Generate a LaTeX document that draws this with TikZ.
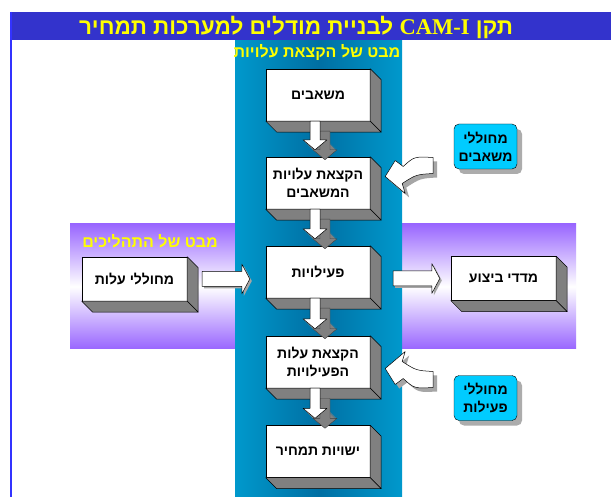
\documentclass[tikz,border=0pt]{standalone}
\usepackage{fontspec}
\setmainfont{Liberation Sans}
\newfontfamily\hebfont[Script=Hebrew]{Liberation Sans}
\newfontfamily\latserif{Liberation Serif}
\TeXXeTstate=1
\usetikzlibrary{calc,shadows}
\newcommand\heb[1]{\beginR #1\endR}
\definecolor{titleblue}{HTML}{3333CC}
\definecolor{borderblue}{HTML}{3333FF}
\definecolor{coledge}{HTML}{0099CC}
\definecolor{colmid}{HTML}{006FA3}
\definecolor{bandpurple}{HTML}{9966FF}
\definecolor{facegray}{HTML}{808080}
\definecolor{cyanbox}{HTML}{00CCFF}
\definecolor{hdryellow}{HTML}{FFFF00}
\tikzset{
  boxfont/.style={font=\hebfont\bfseries\fontsize{14}{18}\selectfont},
  frontbox/.style={draw=black, fill=white, inner sep=0pt, align=center, boxfont,
    minimum width=104pt, minimum height=52pt},
  sidebox/.style={frontbox, minimum width=105pt, minimum height=44pt},
  face/.style={fill=facegray, draw=black, line width=0.5pt, line join=round},
  rbox/.style={draw=black, fill=cyanbox, rounded corners=5pt, inner sep=0pt, align=center, boxfont,
    minimum width=63pt, minimum height=45pt,
    drop shadow={shadow xshift=5pt, shadow yshift=-5pt, fill=gray!65, opacity=1}},
  hdr/.style={text=hdryellow, font=\hebfont\bfseries\fontsize{16}{19}\selectfont, inner sep=0pt},
  arrowfront/.style={fill=white, draw=black, line width=0.5pt, line join=round},
  arrowshade/.style={fill=facegray},
  arrowshadow/.style={fill=gray!70},
}
\newcommand\extrude[1]{%
  \draw[face] (#1.north east) -- ($(#1.north east)+(11,11)$) -- ($(#1.south east)+(11,11)$) -- (#1.south east) -- cycle;
  \draw[face] (#1.south west) -- (#1.south east) -- ($(#1.south east)+(11,11)$) -- ($(#1.south west)+(11,11)$) -- cycle;}
% 3D block arrow pointing down from node #1 to node #2
\newcommand\vflowpath[3]{% #1 from, #2 to, #3 offset
  ($(#1.south)+(#3-8,#3)$) -- ($(#1.south)+(#3+2,#3)$) -- ($(#2.north)+(#3+2,#3-17)$) -- ($(#2.north)+(#3+9,#3-17)$) -- ($(#2.north)+(#3-3,#3-7)$) -- ($(#2.north)+(#3-15,#3-17)$) -- ($(#2.north)+(#3-8,#3-17)$) -- cycle}
\newcommand\vflow[2]{%
  \foreach \k in {1,...,10}{\fill[arrowshade] \vflowpath{#1}{#2}{\k};}
  \draw[facegray!50!black, line width=0.4pt, line join=round] \vflowpath{#1}{#2}{10};
  \draw[arrowfront] \vflowpath{#1}{#2}{0};}
% curved arrow into node #1 from the right; #2 = 1 (down) or -1 (up); #3 shadow offset
\newcommand\curvpath[3]{%
  ($(#1.east)+({63+#3},{-25.5*(#2)+#3})$) .. controls ($(#1.east)+({44+#3},{-26.5*(#2)+#3})$) .. ($(#1.east)+({33+#3},{-16.5*(#2)+#3})$)
  -- ($(#1.east)+({25+#3},{-22.5*(#2)+#3})$) -- ($(#1.east)+({15+#3},{-6.5*(#2)+#3})$) -- ($(#1.east)+({35+#3},{10.5*(#2)+#3})$)
  -- ($(#1.east)+({32+#3},{0.5*(#2)+#3})$) .. controls ($(#1.east)+({46+#3},{-8.5*(#2)+#3})$) .. ($(#1.east)+({63+#3},{-9.5*(#2)+#3})$) -- cycle}
\begin{document}
\begin{tikzpicture}[x=1pt,y=-1pt]
\useasboundingbox (0,0) rectangle (611,497);
\fill[white] (0,0) rectangle (611,497);
% purple process band
\fill[top color=bandpurple, bottom color=bandpurple, middle color=white] (70,224) rectangle (576,349);
% blue cost column
\fill[left color=coledge, right color=coledge, middle color=colmid] (235,40) rectangle (402,497);
% title bar
\fill[titleblue] (10,12) rectangle (611,40);
\draw[borderblue, line width=2pt] (11,12) -- (11,497);
\node[text=hdryellow, font=\hebfont\bfseries\fontsize{22.5}{26}\selectfont, inner sep=0pt] (title) at (296,27)
  {\beginR תקן \beginL{\latserif CAM-I}\endL{} לבניית מודלים למערכות תמחיר\endR};
\node[hdr] (colhdr) at (317,53) {\heb{מבט של הקצאת עלויות}};
\node[hdr] (bandhdr) at (150,241) {\heb{מבט של התהליכים}};
% main column boxes
\node[frontbox] (b1) at (318,95) {\heb{משאבים}};
\node[frontbox] (b2) at (318,183) {\heb{הקצאת עלויות}\\\heb{המשאבים}};
\node[frontbox] (b3) at (318,272) {\heb{פעילויות}};
\node[frontbox] (b4) at (318,362) {\heb{הקצאת עלות}\\\heb{הפעילויות}};
\node[frontbox] (b5) at (318,451.5) {\heb{ישויות תמחיר}};
\foreach \b in {b1,b2,b3,b4,b5}{\extrude{\b}}
% side boxes
\node[sidebox] (L) at (134.5,279) {\heb{מחוללי עלות}};
\node[sidebox] (R) at (503.5,278.5) {\heb{מדדי ביצוע}};
\extrude{L}
\extrude{R}
% driver boxes
\node[rbox] (m1) at (485.5,146.5) {\heb{מחוללי}\\\heb{משאבים}};
\node[rbox] (m2) at (485.5,398) {\heb{מחוללי}\\\heb{פעילות}};
% vertical block arrows
\vflow{b1}{b2}
\vflow{b2}{b3}
\vflow{b3}{b4}
\vflow{b4}{b5}
% horizontal arrows
\fill[arrowshadow] ($(L.east)+(17,-5.5)$) -- ($(b3.west |- L.east)+(-22,-5.5)$) -- ($(b3.west |- L.east)+(-22,-13)$) -- ($(b3.west |- L.east)+(-14,2)$) -- ($(b3.west |- L.east)+(-22,17)$) -- ($(b3.west |- L.east)+(-22,9.5)$) -- ($(L.east)+(17,9.5)$) -- cycle;
\draw[arrowfront] ($(L.east)+(15,-7.5)$) -- ($(b3.west |- L.east)+(-24,-7.5)$) -- ($(b3.west |- L.east)+(-24,-15)$) -- ($(b3.west |- L.east)+(-16,0)$) -- ($(b3.west |- L.east)+(-24,15)$) -- ($(b3.west |- L.east)+(-24,7.5)$) -- ($(L.east)+(15,7.5)$) -- cycle;
\fill[arrowshadow] ($(b3.east |- R.west)+(25,-5.5)$) -- ($(R.west)+(-17,-5.5)$) -- ($(R.west)+(-17,-13)$) -- ($(R.west)+(-9,2)$) -- ($(R.west)+(-17,17)$) -- ($(R.west)+(-17,9.5)$) -- ($(b3.east |- R.west)+(25,9.5)$) -- cycle;
\draw[arrowfront] ($(b3.east |- R.west)+(23,-7.5)$) -- ($(R.west)+(-19,-7.5)$) -- ($(R.west)+(-19,-15)$) -- ($(R.west)+(-11,0)$) -- ($(R.west)+(-19,15)$) -- ($(R.west)+(-19,7.5)$) -- ($(b3.east |- R.west)+(23,7.5)$) -- cycle;
% curved arrows from drivers
\fill[arrowshadow] \curvpath{b2}{1}{4};
\draw[arrowfront] \curvpath{b2}{1}{0};
\fill[arrowshadow] \curvpath{b4}{-1}{4};
\draw[arrowfront] \curvpath{b4}{-1}{0};
\end{tikzpicture}
\end{document}
